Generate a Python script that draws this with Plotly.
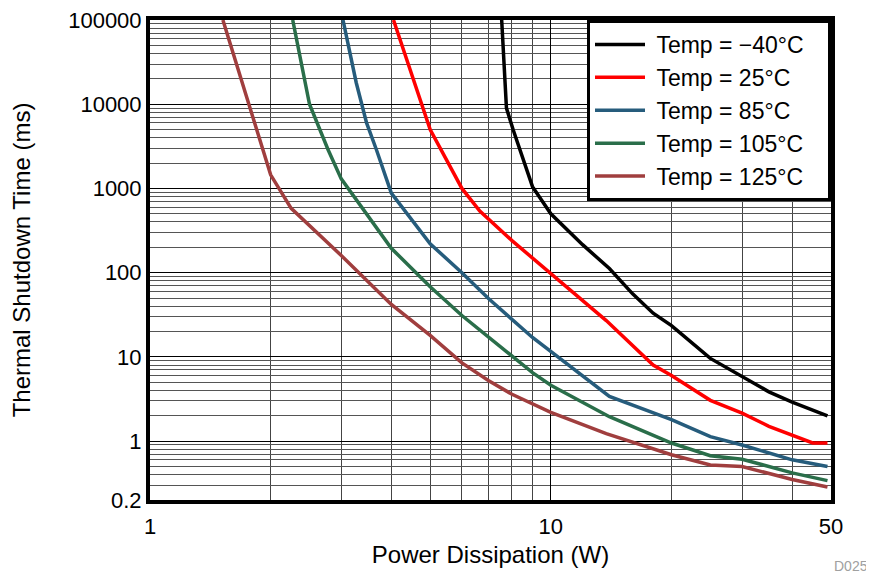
import plotly.graph_objects as go

# Thermal shutdown time vs power dissipation, one curve per temperature
X_M40 = [7.54, 7.75, 8.05, 9.0, 10.0, 12.0, 14.0, 16.0, 18.0, 20.0, 25.0, 30.0, 35.0, 40.0, 49.0]
Y_M40 = [100000, 9000, 5000, 1050, 500, 215, 112, 56, 33, 23.5, 9.6, 5.8, 3.85, 2.9, 2.0]

X_25 = [4.05, 5.0, 6.0, 6.65, 8.0, 9.0, 10.0, 13.75, 18.0, 20.0, 25.0, 30.0, 35.0, 45.0, 49.0]
Y_25 = [100000, 5000, 1000, 540, 240, 150, 97, 27, 8.0, 6.0, 3.05, 2.15, 1.5, 0.95, 0.95]

X_85 = [3.03, 3.27, 3.47, 3.67, 4.0, 5.0, 6.0, 7.0, 9.0, 10.0, 14.0, 20.0, 25.0, 30.0, 40.0, 49.0]
Y_85 = [100000, 18000, 6000, 2900, 880, 220, 100, 49, 17, 11.5, 3.4, 1.8, 1.13, 0.9, 0.6, 0.5]

X_105 = [2.27, 2.5, 2.78, 3.0, 4.0, 5.0, 6.0, 7.0, 8.0, 9.0, 10.0, 14.0, 20.0, 25.0, 30.0, 40.0, 49.0]
Y_105 = [100000, 10000, 2900, 1300, 195, 68, 31, 17, 10, 6.5, 4.6, 1.95, 0.95, 0.67, 0.61, 0.42, 0.34]

X_125 = [1.52, 1.75, 2.0, 2.25, 3.0, 4.0, 5.0, 6.0, 7.0, 8.0, 10.0, 13.75, 20.0, 25.0, 30.0, 40.0, 49.0]
Y_125 = [100000, 11000, 1450, 580, 160, 42, 18, 8.5, 5.2, 3.6, 2.2, 1.23, 0.69, 0.52, 0.5, 0.35, 0.285]

SERIES = [
    ("Temp = \u221240\u00b0C", X_M40, Y_M40, "#000000"),
    ("Temp = 25\u00b0C", X_25, Y_25, "#FF0000"),
    ("Temp = 85\u00b0C", X_85, Y_85, "#265C7C"),
    ("Temp = 105\u00b0C", X_105, Y_105, "#2A6E4A"),
    ("Temp = 125\u00b0C", X_125, Y_125, "#A03E3E"),
]

X_TICKS = [1, 10, 50]
Y_TICKS = [0.2, 1, 10, 100, 1000, 10000, 100000]
X_MINOR = [2, 3, 4, 5, 6, 7, 8, 9, 20, 30, 40]
Y_MINOR = [m * 10 ** e for e in range(-1, 5) for m in range(2, 10) if 0.2 < m * 10 ** e < 100000]

FONT = "Liberation Sans, Arial, sans-serif"
NBSP = "\u00a0"

fig = go.Figure()
for name, xs, ys, color in SERIES:
    fig.add_trace(go.Scatter(x=xs, y=ys, name=NBSP + name + NBSP * 3, mode="lines",
                             line=dict(color=color, width=3.5)))

axis_common = dict(
    type="log",
    showline=True, linecolor="black", linewidth=4, mirror=True,
    showgrid=True, gridcolor="black", gridwidth=1,
    ticks="", tickfont=dict(size=22, color="black", family=FONT),
    ticklabeloverflow="allow",
    zeroline=False, automargin=False,
)

fig.update_xaxes(
    **axis_common,
    range=[0, 1.69897],
    tickmode="array", tickvals=X_TICKS, ticktext=[str(v) for v in X_TICKS],
    ticklabelstandoff=4,
    minor=dict(tickmode="array", tickvals=X_MINOR, showgrid=True,
               gridcolor="#444444", gridwidth=1),
    title=dict(text="Power Dissipation (W)", font=dict(size=24, color="black", family=FONT),
               standoff=9),
)
fig.update_yaxes(
    **axis_common,
    range=[-0.69897, 5],
    tickmode="array", tickvals=Y_TICKS, ticktext=[str(v) for v in Y_TICKS],
    minor=dict(tickmode="array", tickvals=Y_MINOR, showgrid=True,
               gridcolor="#555555", gridwidth=1),
    title=dict(text="Thermal Shutdown Time (ms)", font=dict(size=24, color="black", family=FONT),
               standoff=40),
)

# page body adds an 8px offset, so the figure is sized and placed to compensate
fig.update_layout(
    width=866, height=573,
    margin=dict(l=142, r=43, t=12, b=81),
    paper_bgcolor="white", plot_bgcolor="white",
    font=dict(family=FONT, size=22, color="black"),
    showlegend=True,
    legend=dict(x=1, y=1, xanchor="right", yanchor="top",
                bgcolor="white", bordercolor="black", borderwidth=3,
                font=dict(size=23, color="black", family=FONT),
                itemwidth=50, tracegroupgap=0),
    annotations=[dict(text="D025", xref="paper", yref="paper", x=1.057, y=-0.158,
                      xanchor="right", yanchor="bottom", showarrow=False,
                      font=dict(size=14, color="#A0A0A0", family=FONT))],
)

fig.write_html("out.html")
